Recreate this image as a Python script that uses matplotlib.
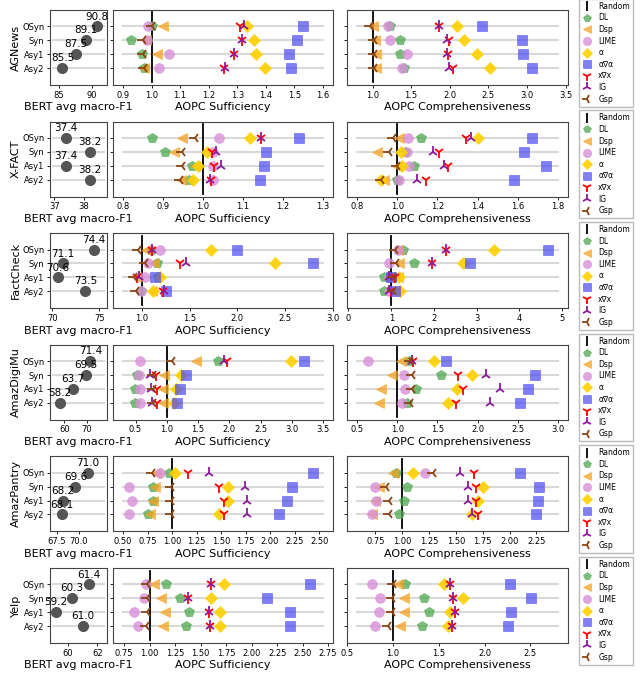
import matplotlib
matplotlib.use("Agg")
import matplotlib.pyplot as plt
from matplotlib.lines import Line2D
import numpy as np

datasets = ["AGNews", "X-FACT", "FactCheck", "AmazDigiMu", "AmazPantry", "Yelp"]
settings = ["OSyn", "Syn", "Asy1", "Asy2"]
methods = ["DL", "Dsp", "LIME", "α", "α∇α", "x∇x", "IG", "Gsp"]

# BERT avg macro-F1 (OSyn, Syn, Asy1, Asy2)
f1_agnews = [90.8, 89.1, 87.5, 85.5]
f1_xfact = [37.4, 38.2, 37.4, 38.2]
f1_factcheck = [74.4, 71.1, 70.6, 73.5]
f1_amazdigimu = [71.4, 69.5, 63.7, 58.2]
f1_amazpantry = [71.0, 69.6, 68.2, 68.1]
f1_yelp = [61.4, 60.3, 59.2, 61.0]

# AOPC sufficiency
suff_agnews = {"DL": [1.00, 0.928, 0.965, 0.973], "Dsp": [1.04, 0.98, 1.02, 0.975],
               "LIME": [0.986, 0.983, 1.061, 1.025], "α": [1.335, 1.357, 1.367, 1.398],
               "α∇α": [1.53, 1.51, 1.48, 1.487], "x∇x": [1.308, 1.318, 1.288, 1.254],
               "IG": [1.322, 1.316, 1.288, 1.256], "Gsp": [1.0, 0.971, 0.97, 0.973]}
suff_xfact = {"DL": [0.873, 0.906, 0.973, 0.964], "Dsp": [0.948, 0.927, 0.98, 0.946],
              "LIME": [1.04, 1.025, 1.025, 1.025], "α": [1.118, 1.01, 0.988, 0.975],
              "α∇α": [1.239, 1.158, 1.152, 1.143], "x∇x": [1.144, 1.023, 1.027, 1.019],
              "IG": [1.146, 1.033, 1.046, 1.017], "Gsp": [0.979, 0.948, 0.948, 0.942]}
suff_factcheck = {"DL": [1.09, 1.16, 1.17, 0.99], "Dsp": [1.04, 1.13, 0.937, 1.10],
                  "LIME": [1.19, 1.06, 1.03, 0.99], "α": [1.72, 2.40, 1.19, 1.12],
                  "α∇α": [2.0, 2.80, 1.14, 1.25], "x∇x": [1.10, 1.40, 0.948, 1.22],
                  "IG": [1.10, 1.46, 0.965, 1.23], "Gsp": [0.955, 1.035, 0.92, 0.937]}
suff_amazdigimu = {"DL": [1.82, 0.52, 0.495, 0.495], "Dsp": [1.47, 0.96, 0.947, 0.947],
                   "LIME": [0.574, 0.56, 0.574, 0.574], "α": [2.98, 1.23, 1.15, 1.12],
                   "α∇α": [3.2, 1.31, 1.21, 1.17], "x∇x": [1.96, 0.83, 0.84, 0.84],
                   "IG": [1.91, 0.73, 0.745, 0.76], "Gsp": [1.08, 0.78, 0.78, 0.78]}
suff_amazpantry = {"DL": [0.97, 0.81, 0.81, 0.758], "Dsp": [0.84, 0.826, 0.81, 0.775],
                   "LIME": [0.88, 0.565, 0.59, 0.558], "α": [1.034, 1.575, 1.575, 1.476],
                   "α∇α": [2.44, 2.22, 2.173, 2.09], "x∇x": [1.167, 1.483, 1.527, 1.527],
                   "IG": [1.38, 1.745, 1.762, 1.762], "Gsp": [0.80, 0.99, 0.99, 0.99]}
suff_yelp = {"DL": [1.164, 1.295, 1.39, 1.357], "Dsp": [1.04, 1.115, 1.154, 1.13],
             "LIME": [0.967, 0.95, 0.852, 0.885], "α": [1.728, 1.607, 1.695, 1.69],
             "α∇α": [2.57, 2.148, 2.377, 2.377], "x∇x": [1.607, 1.377, 1.58, 1.597],
             "IG": [1.607, 1.377, 1.58, 1.597], "Gsp": [0.98, 0.974, 0.974, 0.967]}

# AOPC comprehensiveness
comp_agnews = {"DL": [1.23, 1.36, 1.36, 1.41], "Dsp": [1.0, 1.03, 1.05, 1.04],
               "LIME": [1.2, 1.22, 1.44, 1.38], "α": [2.09, 2.18, 2.35, 2.52],
               "α∇α": [2.42, 2.94, 2.95, 3.07], "x∇x": [1.86, 1.99, 1.98, 2.04],
               "IG": [1.86, 1.97, 1.97, 1.99], "Gsp": [0.97, 1.02, 1.02, 1.02]}
comp_xfact = {"DL": [1.12, 1.04, 1.083, 0.997], "Dsp": [1.01, 0.898, 1.0, 0.936],
              "LIME": [1.055, 1.05, 1.06, 1.01], "α": [1.40, 1.021, 1.025, 0.92],
              "α∇α": [1.671, 1.633, 1.74, 1.579], "x∇x": [1.344, 1.21, 1.253, 1.145],
              "IG": [1.369, 1.18, 1.233, 1.096], "Gsp": [0.977, 0.96, 1.0, 0.917]}
comp_factcheck = {"DL": [1.28, 1.53, 0.835, 0.835], "Dsp": [1.15, 1.18, 1.15, 1.12],
                  "LIME": [1.16, 0.95, 0.95, 0.95], "α": [3.40, 2.68, 1.17, 1.2],
                  "α∇α": [4.66, 2.85, 0.99, 1.08], "x∇x": [2.27, 1.96, 1.09, 1.0],
                  "IG": [2.27, 1.96, 0.94, 0.94], "Gsp": [1.09, 1.1, 1.05, 1.05]}
comp_amazdigimu = {"DL": [1.145, 1.54, 1.23, 1.12], "Dsp": [1.05, 0.93, 0.8, 0.77],
                   "LIME": [0.64, 1.08, 1.095, 1.06], "α": [1.455, 1.93, 1.745, 1.63],
                   "α∇α": [1.61, 2.72, 2.63, 2.53], "x∇x": [1.2, 1.75, 1.82, 1.73],
                   "IG": [1.19, 2.1, 2.28, 2.15], "Gsp": [1.165, 1.18, 1.185, 1.165]}
comp_amazpantry = {"DL": [0.944, 1.046, 1.015, 0.969], "Dsp": [0.913, 0.78, 0.743, 0.72],
                   "LIME": [1.217, 0.743, 0.76, 0.718], "α": [1.105, 1.755, 1.71, 1.647],
                   "α∇α": [2.10, 2.27, 2.26, 2.245], "x∇x": [1.67, 1.69, 1.69, 1.71],
                   "IG": [1.54, 1.61, 1.616, 1.65], "Gsp": [1.285, 0.85, 0.876, 0.873]}
comp_yelp = {"DL": [1.13, 1.34, 1.39, 1.315], "Dsp": [1.06, 1.12, 1.12, 1.08],
             "LIME": [0.77, 0.855, 0.845, 0.81], "α": [1.56, 1.76, 1.62, 1.60],
             "α∇α": [2.28, 2.51, 2.29, 2.26], "x∇x": [1.62, 1.66, 1.68, 1.65],
             "IG": [1.62, 1.66, 1.68, 1.65], "Gsp": [1.0, 0.99, 0.99, 0.95]}

f1_all = [f1_agnews, f1_xfact, f1_factcheck, f1_amazdigimu, f1_amazpantry, f1_yelp]
suff_all = [suff_agnews, suff_xfact, suff_factcheck, suff_amazdigimu, suff_amazpantry, suff_yelp]
comp_all = [comp_agnews, comp_xfact, comp_factcheck, comp_amazdigimu, comp_amazpantry, comp_yelp]

# axis ranges and ticks
f1_xlim = [(83.6, 92.3), (36.85, 38.79), (69.75, 75.8), (53.8, 78.7), (66.7, 73.2), (58.79, 62.65)]
f1_ticks = [[85, 90], [37, 38], [70, 75], [60, 70], [67.5, 70.0], [60, 62]]
f1_tickfmt = ["{:.0f}", "{:.0f}", "{:.0f}", "{:.0f}", "{:.1f}", "{:.0f}"]
suff_span = [(0.9, 1.6), (0.8, 1.3), (0.8, 2.9), (0.3, 3.5), (0.5, 2.54), (0.74, 2.70)]
comp_span = [(0.8, 3.4), (0.8, 1.8), (0.2, 4.9), (0.5, 3.0), (0.58, 2.45), (0.61, 2.8)]
suff_ticks = [(0.9, 1.6, 0.1, 1), (0.8, 1.3, 0.1, 1), (1.0, 3.0, 0.5, 1), (0.5, 3.5, 0.5, 1),
              (0.5, 2.5, 0.25, 2), (0.75, 2.75, 0.25, 2)]
comp_ticks = [(1.0, 3.5, 0.5, 1), (0.8, 1.8, 0.2, 1), (0, 5, 1, 0), (0.5, 3.0, 0.5, 1),
              (0.75, 2.25, 0.25, 2), (0.5, 2.5, 0.5, 1)]

style = {
    "DL": dict(marker="p", color="#4fa84f", alpha=0.75, ms=7, mew=0.5),
    "Dsp": dict(marker="<", color="#f5a220", alpha=0.75, ms=7, mew=0.5),
    "LIME": dict(marker="o", color="#d890d8", alpha=0.8, ms=7, mew=0.5),
    "α": dict(marker="D", color="#ffd000", alpha=0.9, ms=6.5, mew=0.5),
    "α∇α": dict(marker="s", color="#4a4af0", alpha=0.7, ms=6.5, mew=0.5),
    "x∇x": dict(marker="1", color="red", alpha=1.0, ms=8, mew=1.3),
    "IG": dict(marker="2", color="#8b1a9b", alpha=1.0, ms=8, mew=1.3),
    "Gsp": dict(marker="3", color="#8b4513", alpha=1.0, ms=8, mew=1.3),
}

W, H = 640, 687
fig = plt.figure(figsize=(W / 100, H / 100), dpi=100)

ypos = [3, 2, 1, 0]
line_col = "#d9d9d9"


def px_axes(x0, x1, top, h=75):
    return fig.add_axes([x0 / W, 1 - (top + h) / H, (x1 - x0) / W, h / H])


def make_ticks(t):
    a, b, s, d = t
    vals = np.round(np.arange(a, b + s / 2, s), 4)
    return vals, [f"{v:.{d}f}" for v in vals]


for r, name in enumerate(datasets):
    top = 10 + 111.6 * r
    axl = px_axes(50, 107, top)
    axm = px_axes(113, 333, top)
    axr = px_axes(347, 568, top)

    # left: BERT F1
    x0, x1 = f1_xlim[r]
    pad = (x1 - x0) / 22
    for y in ypos:
        axl.plot([x0 + pad, x1 - pad], [y, y], color=line_col, lw=1.5, zorder=1)
    axl.plot(f1_all[r], ypos, "o", color="#555555", ms=7, zorder=3, ls="none")
    for v, y in zip(f1_all[r], ypos):
        axl.annotate(f"{v:.1f}", (v, y), xytext=(0, 3.5), textcoords="offset points",
                     ha="center", va="bottom", fontsize=7.5, zorder=4)
    axl.set_xlim(f1_xlim[r])
    axl.set_xticks(f1_ticks[r])
    axl.set_xticklabels([f1_tickfmt[r].format(v) for v in f1_ticks[r]])
    axl.set_yticks(ypos)
    axl.set_yticklabels(settings)
    axl.set_ylim(-1.22, 4.18)
    axl.set_ylabel(name, fontsize=8, labelpad=1)
    axl.set_xlabel("BERT avg macro-F1", fontsize=8, labelpad=2)

    for ax, data, span, tk, xl in [(axm, suff_all[r], suff_span[r], suff_ticks[r], "AOPC Sufficiency"),
                                   (axr, comp_all[r], comp_span[r], comp_ticks[r], "AOPC Comprehensiveness")]:
        lo, hi = span
        for y in ypos:
            ax.plot([lo, hi], [y, y], color=line_col, lw=1.5, zorder=1)
        ax.plot([1.0, 1.0], [-1, 4], color="black", lw=1.3, zorder=2)
        for k, m in enumerate(methods):
            st = style[m]
            ax.plot(data[m], ypos, ls="none", marker=st["marker"], color=st["color"],
                    alpha=st["alpha"], ms=st["ms"], mew=st["mew"], zorder=3 + k)
        pad = 0.05 * (hi - lo)
        ax.set_xlim(lo - pad, hi + pad)
        vals, labs = make_ticks(tk)
        ax.set_xticks(vals)
        ax.set_xticklabels(labs)
        ax.set_ylim(-1.22, 4.18)
        ax.set_yticks(ypos)
        ax.set_yticklabels([])
        ax.set_xlabel(xl, fontsize=8, labelpad=2)

    for ax in (axl, axm, axr):
        ax.tick_params(labelsize=6, length=2.5, width=0.6, pad=1.5)
        for s in ax.spines.values():
            s.set_linewidth(0.8)
            s.set_color("#444444")

    handles = [Line2D([], [], ls="none", marker="|", color="black", ms=9, mew=1.3)]
    for m in methods:
        st = style[m]
        handles.append(Line2D([], [], ls="none", marker=st["marker"], color=st["color"],
                              alpha=st["alpha"], ms=st["ms"], mew=st["mew"]))
    axr.legend(handles, ["Random"] + methods, loc="upper left", bbox_to_anchor=(1.05, 1.15),
               borderaxespad=0, fontsize=5.5, frameon=True, handlelength=1.2,
               handletextpad=0.9, labelspacing=0.34, borderpad=0.4, fancybox=False,
               markerscale=0.85, edgecolor="#aaaaaa")

fig.savefig("out.png", dpi=100)
